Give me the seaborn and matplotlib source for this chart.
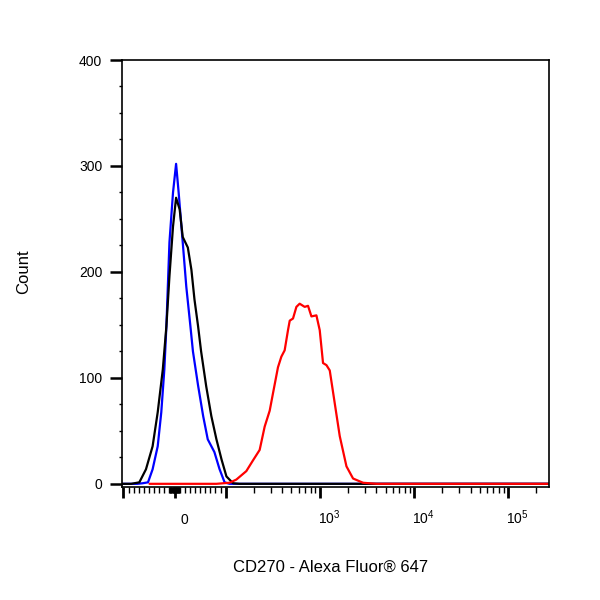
import matplotlib
matplotlib.use("Agg")
import matplotlib.pyplot as plt
from matplotlib.transforms import ScaledTranslation
import pandas as pd
import seaborn as sns

# histogram traces (fluorescence, count)
blue_x = [-105, -73, -63, -52, -43, -33, -26, -20, -16, -10, -3, 3, 8, 16, 23,
          31, 36, 46, 56, 65, 78, 88, 98, 110, 275000]
blue_y = [0, 0, 0.5, 1.4, 13.7, 35.4, 67.5, 108, 148.6, 228, 275, 302, 275, 228,
          186, 149, 125, 93, 64, 42, 30, 14, 1.4, 0, 0]

black_x = [-105, -85, -69, -56, -43, -33, -23, -16, -10, -3, 3, 10, 16, 26, 33,
           39, 46, 52, 62, 72, 82, 92, 102, 120, 141, 275000]
black_y = [0, 0, 1.4, 13.7, 35.4, 67.5, 108, 148.6, 196, 243, 270, 259, 233, 223,
           202, 174, 149, 125, 92, 64, 42, 23, 7, 0.5, 0, 0]

red_x = [-49, 82, 110, 130, 166, 195, 230, 260, 294, 318, 360, 391, 424, 460,
         480, 520, 565, 612, 692, 751, 816, 922, 1000, 1084, 1179, 1278, 1444,
         1632, 1923, 2261, 2888, 4010, 275000]
red_y = [0, 0, 1, 4, 12, 22, 32, 54, 69, 85, 110, 120, 126, 145, 154, 156, 167,
         170, 167, 168, 158, 159, 145, 114, 112, 107, 76, 45, 16.5, 5, 1, 0, 0]

samples = ["isotype", "unstained", "CD270"]
colors = {"isotype": "#0000ff", "unstained": "#000000", "CD270": "#ff0000"}

x_major = [-100, 0, 100, 1e3, 1e4, 1e5]
x_major_labels = ["", "0", "", r"$\mathregular{10^3}$", r"$\mathregular{10^4}$",
                  r"$\mathregular{10^5}$"]
y_major = [0, 100, 200, 300, 400]

frames = []
for name, xs, ys in zip(samples, [blue_x, black_x, red_x], [blue_y, black_y, red_y]):
    frames.append(pd.DataFrame({"fluor": xs, "count": ys, "sample": name}))
df = pd.concat(frames, ignore_index=True)

sns.set_style("ticks")
plt.rcParams["font.family"] = ["Liberation Sans", "DejaVu Sans"]
plt.rcParams["mathtext.fontset"] = "custom"
plt.rcParams["mathtext.rm"] = "Liberation Sans"

fig = plt.figure(figsize=(6, 6), dpi=100)
ax = fig.add_axes([0.2025, 0.18833, 0.713, 0.71167])

sns.lineplot(data=df, x="fluor", y="count", hue="sample", hue_order=samples,
             palette=colors, estimator=None, sort=False, lw=1.6, legend=False, ax=ax)

# biexponential-like axis
ax.set_xscale("symlog", linthresh=100, linscale=0.4883)
ax.set_xlim(-105, 275000)
ax.set_ylim(-3, 400)

minors = [-k for k in range(10, 100, 10)] + [-k for k in range(1, 10)] + list(range(1, 10)) + list(range(10, 100, 10))
for dec in [100, 1000, 10000, 100000]:
    minors += [k * dec for k in range(2, 10) if k * dec < 275000]
ax.set_xticks(x_major)
ax.set_xticklabels(x_major_labels)
ax.set_xticks(minors, minor=True)
ax.set_yticks(y_major)
ax.set_yticks(range(0, 401, 25), minor=True)

for s in ax.spines.values():
    s.set_linewidth(1.2)
    s.set_color("black")

ax.tick_params(axis="x", which="major", length=8, width=2, pad=18.6, labelsize=10, colors="black")
ax.tick_params(axis="x", which="minor", length=4, width=1, colors="black")
ax.tick_params(axis="y", which="major", length=8.6, width=1.8, pad=5.3, labelsize=10, colors="black")
ax.tick_params(axis="y", which="minor", length=2.5, width=1, colors="black")

shift = ScaledTranslation(7 / 72, 0, fig.dpi_scale_trans)
for tick in ax.xaxis.get_major_ticks():
    tick.label1.set_verticalalignment("baseline")
    tick.label1.set_transform(tick.label1.get_transform() + shift)

ax.set_xlabel("CD270 - Alexa Fluor® 647", fontsize=12, va="center", color="black")
ax.xaxis.set_label_coords(0.4897, -0.1885)
ax.set_ylabel("Count", fontsize=12, va="center", color="black")
ax.yaxis.set_label_coords(-0.228, 0.5035)

fig.savefig("out.png", dpi=100)
